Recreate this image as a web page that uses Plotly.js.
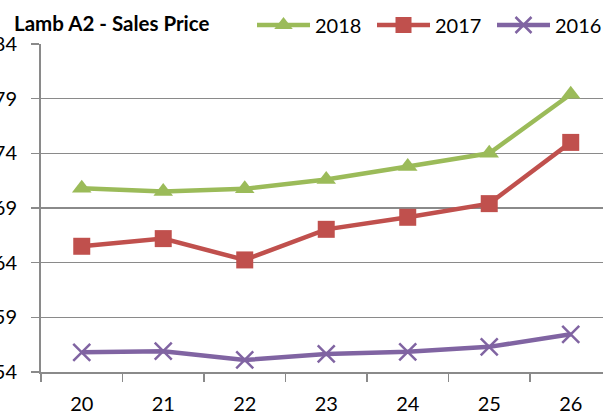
<!DOCTYPE html>
<html>
<head>
<meta charset="utf-8">
<script src="https://cdn.plot.ly/plotly-3.0.1.min.js"></script>
<style>
html,body{margin:0;padding:0;background:#fff;}
#chart{width:603px;height:419px;}
</style>
</head>
<body>
<div id="chart"></div>
<script>
const categories = ['20', '21', '22', '23', '24', '25', '26'];
const seriesNames = ['2018', '2017', '2016'];
const values2018 = [70.8, 70.5, 70.75, 71.6, 72.8, 74.0, 79.4];
const values2017 = [65.5, 66.2, 64.25, 67.05, 68.15, 69.4, 75.0];
const values2016 = [55.8, 55.9, 55.1, 55.65, 55.85, 56.3, 57.45];
const yTicks = [54, 59, 64, 69, 74, 79, 84];

const FONT = 'Lato, "Open Sans", sans-serif';
const GRID = '#8a8a8a';

const traces = [
  {
    x: categories, y: values2018, name: seriesNames[0], type: 'scatter', mode: 'lines+markers',
    line: {color: '#9BBB59', width: 4.5},
    marker: {symbol: 'triangle-up', size: 17, color: '#9BBB59'},
    cliponaxis: false
  },
  {
    x: categories, y: values2017, name: seriesNames[1], type: 'scatter', mode: 'lines+markers',
    line: {color: '#C0504D', width: 4.5},
    marker: {symbol: 'square', size: 17, color: '#C0504D'},
    cliponaxis: false
  },
  {
    x: categories, y: values2016, name: seriesNames[2], type: 'scatter', mode: 'lines+markers',
    line: {color: '#8064A2', width: 4.5},
    marker: {symbol: 'x-thin', size: 17, color: '#8064A2', line: {color: '#8064A2', width: 2.5}},
    cliponaxis: false
  }
];

const layout = {
  width: 603, height: 419,
  margin: {l: 41, r: 0, t: 44, b: 47, pad: 0, autoexpand: false},
  paper_bgcolor: '#ffffff', plot_bgcolor: '#ffffff',
  font: {family: FONT, size: 20, color: '#000000'},
  title: {
    text: '<b>Lamb A2 - Sales Price</b>',
    font: {family: FONT, size: 20.5, color: '#000000'},
    x: 14 / 603, xref: 'container', xanchor: 'left',
    y: 1 - 24 / 419, yref: 'container', yanchor: 'middle'
  },
  showlegend: true,
  legend: {
    orientation: 'h', x: (252 - 41) / 562, xanchor: 'left', y: 1 + (44 - 25) / 328, yanchor: 'middle',
    font: {family: FONT, size: 20, color: '#000000'},
    bgcolor: 'rgba(0,0,0,0)', traceorder: 'normal', entrywidth: 52, entrywidthmode: 'pixels',
    itemwidth: 53
  },
  xaxis: {
    type: 'category',
    range: [-0.5, 6.396],
    tickson: 'boundaries',
    ticks: 'outside', ticklen: 8, tickwidth: 1.5, tickcolor: GRID,
    showline: true, linecolor: GRID, linewidth: 2,
    showgrid: false, zeroline: false,
    tickfont: {family: FONT, size: 20, color: '#000000'},
    ticklabelstandoff: 13,
    fixedrange: true
  },
  yaxis: {
    range: [54, 84],
    tickvals: yTicks, ticktext: yTicks.map(String),
    ticks: 'outside', ticklen: 8, tickwidth: 1.5, tickcolor: GRID,
    showline: true, linecolor: GRID, linewidth: 2,
    showgrid: true, gridcolor: GRID, gridwidth: 1.5,
    zeroline: false,
    tickfont: {family: FONT, size: 20, color: '#000000'},
    ticklabelstandoff: 10,
    automargin: false,
    fixedrange: true
  }
};

Plotly.newPlot('chart', traces, layout, {displayModeBar: false, staticPlot: true});
</script>
</body>
</html>
